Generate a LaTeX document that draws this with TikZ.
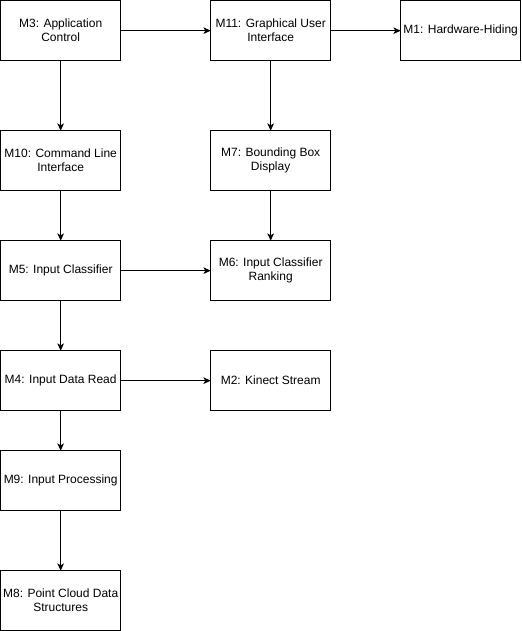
\documentclass[tikz,border=0pt]{standalone}
\usepackage{fontspec}
\setmainfont{Liberation Sans}
\usetikzlibrary{arrows.meta, positioning}

\begin{document}
\begin{tikzpicture}[
  module/.style={draw, line width=0.75pt, minimum width=90pt, minimum height=45pt, align=center, font=\fontsize{9}{10.5}\selectfont, inner sep=1pt},
  link/.style={-{Stealth[length=5.5pt, width=5pt, inset=1.5pt]}, line width=0.75pt},
  every node/.style={outer sep=0pt}
]
\useasboundingbox (-0.5pt,0.5pt) rectangle ++(390.75pt,-473.25pt);

% First column
\node[module, anchor=north west] (m3) at (0,0) {M3: Application\\Control};
\node[module, below=52.5pt of m3] (m10) {M10: Command Line\\Interface};
\node[module, below=37.5pt of m10] (m5) {M5: Input Classifier};
\node[module, below=37.5pt of m5] (m4) {M4: Input Data Read};
\node[module, below=30pt of m4] (m9) {M9: Input Processing};
\node[module, below=45pt of m9] (m8) {M8: Point Cloud Data\\Structures};

% Second column
\node[module, right=67.5pt of m3] (m11) {M11: Graphical User\\Interface};
\node[module, right=67.5pt of m10] (m7) {M7: Bounding Box\\Display};
\node[module, right=67.5pt of m5] (m6) {M6: Input Classifier\\Ranking};
\node[module, right=67.5pt of m4] (m2) {M2: Kinect Stream};

% Third column
\node[module, right=52.5pt of m11] (m1) {M1: Hardware-Hiding};

% Uses relations
\draw[link] (m3) -- (m11);
\draw[link] (m11) -- (m1);
\draw[link] (m3) -- (m10);
\draw[link] (m11) -- (m7);
\draw[link] (m10) -- (m5);
\draw[link] (m7) -- (m6);
\draw[link] (m5) -- (m6);
\draw[link] (m5) -- (m4);
\draw[link] (m4) -- (m2);
\draw[link] (m4) -- (m9);
\draw[link] (m9) -- (m8);

\end{tikzpicture}
\end{document}
